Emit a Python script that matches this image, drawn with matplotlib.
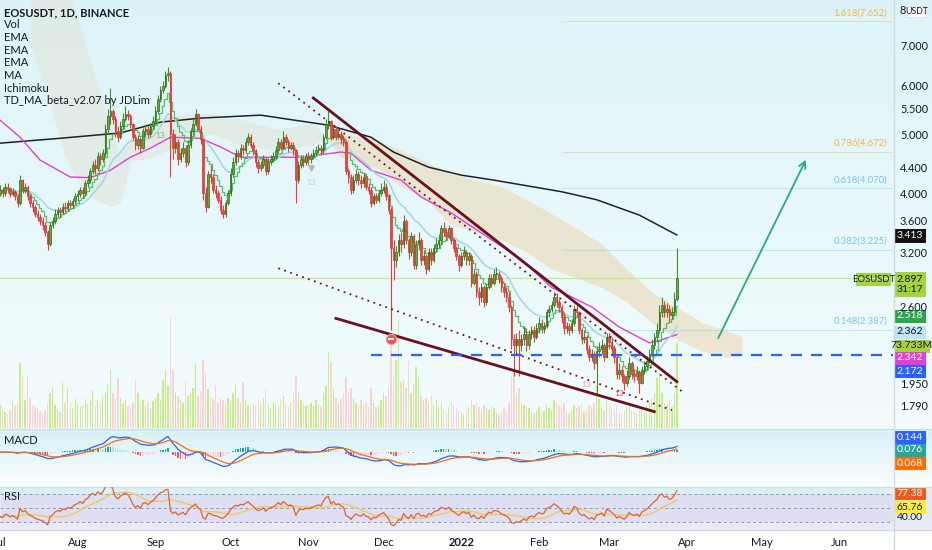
import numpy as np
import pandas as pd
import matplotlib
matplotlib.use("Agg")
import matplotlib.pyplot as plt
from matplotlib.colors import to_rgb
from matplotlib.patches import Rectangle
from matplotlib.lines import Line2D

plt.rcParams['font.family'] = ['Liberation Sans Narrow', 'Lato', 'DejaVu Sans']

W, H = 932, 550

# ---- EOSUSDT daily candles, 2021-07-01 .. 2022-03-28 ----
start_date = "2021-07-01"
first_open = 3.98

closes = [
    # Jul
    4.05, 4.00, 4.10, 4.08, 3.98, 4.02, 3.95, 3.85, 4.20, 4.05, 4.10, 3.95, 3.85, 3.80, 3.70, 3.65,
    3.60, 3.55, 3.45, 3.30, 3.55, 3.60, 3.70, 3.75, 3.72, 3.80, 3.78, 3.85, 3.82, 3.88, 3.95,
    # Aug
    3.98, 4.05, 4.00, 4.15, 4.20, 4.35, 4.45, 4.40, 4.60, 4.55, 4.65, 5.10, 5.35, 5.45, 5.30, 5.05,
    4.95, 5.15, 5.30, 5.40, 5.35, 5.20, 4.95, 4.80, 4.90, 4.75, 5.05, 5.10, 5.00, 5.15, 5.25,
    # Sep
    5.45, 5.70, 5.90, 6.00, 6.25, 6.30, 5.00, 4.75, 4.85, 4.55, 4.65, 4.75, 4.50, 4.80, 5.05,
    5.20, 5.40, 5.10, 4.90, 4.00, 3.80, 4.30, 4.25, 4.05, 4.00, 3.90, 3.75, 3.70, 3.85, 4.00,
    # Oct
    4.30, 4.50, 4.65, 4.60, 4.75, 4.70, 4.85, 4.95, 4.80, 4.70, 4.50, 4.40, 4.45, 4.55, 4.35, 4.50,
    4.55, 4.60, 4.70, 4.85, 4.75, 4.95, 4.85, 4.75, 4.80, 4.70, 4.20, 4.45, 4.55, 4.50, 4.60,
    # Nov
    4.55, 4.60, 4.65, 4.70, 4.75, 4.70, 4.95, 5.20, 5.25, 4.95, 5.10, 4.95, 5.00, 4.90, 4.85,
    4.35, 4.25, 4.05, 4.20, 4.30, 4.20, 4.15, 4.25, 4.10, 4.05, 3.85, 3.95, 3.90, 4.00, 4.05,
    # Dec
    4.10, 3.95, 3.75, 3.25, 3.10, 3.20, 3.35, 3.30, 3.60, 3.35, 3.20, 3.40, 3.05, 3.30, 3.35, 3.10,
    3.15, 3.00, 3.20, 3.10, 3.25, 3.30, 3.35, 3.50, 3.45, 3.40, 3.50, 3.35, 3.25, 3.15, 3.05,
    # Jan
    3.15, 3.20, 3.10, 3.15, 2.85, 2.95, 2.75, 2.70, 2.80, 2.65, 2.80, 2.90, 2.85, 2.95, 2.95, 2.90,
    2.80, 2.75, 2.70, 2.60, 2.30, 2.25, 2.30, 2.25, 2.30, 2.35, 2.25, 2.35, 2.38, 2.32, 2.40,
    # Feb
    2.45, 2.40, 2.42, 2.55, 2.58, 2.62, 2.70, 2.65, 2.60, 2.50, 2.40, 2.42, 2.38, 2.45,
    2.58, 2.55, 2.38, 2.30, 2.32, 2.22, 2.15, 2.18, 2.10, 2.20, 2.22, 2.25, 2.15, 2.32,
    # Mar
    2.28, 2.22, 2.15, 2.02, 2.05, 2.00, 1.95, 2.00, 2.10, 2.02, 2.00, 2.03, 1.95, 2.05,
    2.08, 2.12, 2.18, 2.25, 2.32, 2.38, 2.55, 2.62, 2.55, 2.58, 2.52, 2.55, 2.68, 2.897,
]

highs = [
    4.12, 4.10, 4.15, 4.15, 4.10, 4.08, 4.05, 3.98, 4.28, 4.22, 4.15, 4.12, 3.98, 3.90, 3.82, 3.75,
    3.70, 3.65, 3.58, 3.48, 3.58, 3.66, 3.76, 3.80, 3.80, 3.85, 3.86, 3.90, 3.90, 3.92, 4.00,
    4.05, 4.10, 4.10, 4.20, 4.28, 4.40, 4.52, 4.55, 4.68, 4.66, 4.72, 5.20, 5.50, 5.95, 5.50, 5.35,
    5.15, 5.25, 5.42, 5.55, 5.48, 5.40, 5.22, 5.00, 4.98, 4.95, 5.12, 5.20, 5.15, 5.22, 5.35,
    5.55, 5.80, 6.00, 6.10, 6.35, 6.45, 6.35, 5.10, 5.00, 4.90, 4.75, 4.85, 4.80, 4.88, 5.12,
    5.30, 5.50, 5.42, 5.15, 4.92, 4.10, 4.35, 4.45, 4.30, 4.12, 4.05, 3.95, 3.82, 3.90, 4.05,
    4.40, 4.58, 4.72, 4.70, 4.82, 4.80, 4.92, 5.02, 5.00, 4.85, 4.72, 4.55, 4.52, 4.62, 4.58, 4.56,
    4.62, 4.68, 4.78, 4.92, 4.90, 5.05, 5.00, 4.90, 4.85, 4.85, 4.72, 4.52, 4.62, 4.62, 4.66,
    4.68, 4.66, 4.72, 4.78, 4.82, 4.80, 5.00, 5.30, 5.45, 5.28, 5.18, 5.15, 5.08, 5.05, 4.98,
    4.88, 4.40, 4.30, 4.28, 4.38, 4.35, 4.28, 4.32, 4.30, 4.15, 4.10, 4.00, 4.00, 4.05, 4.15,
    4.20, 4.15, 3.98, 3.80, 3.35, 3.28, 3.42, 3.45, 3.68, 3.62, 3.38, 3.45, 3.42, 3.35, 3.45, 3.38,
    3.22, 3.18, 3.25, 3.25, 3.30, 3.38, 3.42, 3.55, 3.58, 3.50, 3.55, 3.52, 3.38, 3.28, 3.18,
    3.20, 3.28, 3.22, 3.20, 3.18, 3.00, 2.98, 2.80, 2.85, 2.82, 2.85, 2.95, 2.95, 3.00, 3.02, 2.98,
    2.92, 2.85, 2.80, 2.75, 2.62, 2.35, 2.36, 2.38, 2.35, 2.42, 2.40, 2.38, 2.42, 2.42, 2.45,
    2.50, 2.48, 2.46, 2.58, 2.62, 2.66, 2.75, 2.74, 2.68, 2.62, 2.55, 2.46, 2.45, 2.48,
    2.62, 2.62, 2.56, 2.40, 2.38, 2.34, 2.25, 2.22, 2.20, 2.24, 2.28, 2.30, 2.27, 2.36,
    2.36, 2.32, 2.25, 2.18, 2.10, 2.08, 2.02, 2.05, 2.15, 2.12, 2.06, 2.08, 2.05, 2.08,
    2.12, 2.16, 2.22, 2.30, 2.36, 2.45, 2.62, 2.70, 2.66, 2.64, 2.62, 2.60, 2.75, 3.25,
]

lows = [
    3.95, 3.94, 3.96, 4.00, 3.94, 3.95, 3.90, 3.80, 3.82, 4.00, 4.00, 3.90, 3.80, 3.72, 3.66, 3.60,
    3.55, 3.48, 3.40, 3.22, 3.28, 3.50, 3.56, 3.66, 3.66, 3.70, 3.72, 3.74, 3.78, 3.78, 3.84,
    3.88, 3.94, 3.92, 3.96, 4.10, 4.16, 4.30, 4.30, 4.35, 4.45, 4.50, 4.60, 5.00, 5.20, 5.20, 4.95,
    4.85, 4.90, 5.10, 5.25, 5.28, 5.12, 4.88, 4.70, 4.72, 4.65, 4.72, 4.95, 4.92, 4.95, 5.10,
    5.20, 5.40, 5.65, 5.85, 5.95, 6.10, 4.25, 4.55, 4.65, 4.45, 4.50, 4.58, 4.42, 4.45, 4.75,
    4.98, 5.15, 5.05, 4.82, 3.90, 3.72, 3.78, 4.15, 4.00, 3.92, 3.85, 3.70, 3.64, 3.66, 3.82,
    3.95, 4.25, 4.45, 4.50, 4.55, 4.62, 4.65, 4.80, 4.75, 4.62, 4.42, 4.32, 4.35, 4.40, 4.28, 4.30,
    4.45, 4.50, 4.55, 4.65, 4.70, 4.72, 4.80, 4.68, 4.70, 4.62, 3.85, 4.15, 4.40, 4.42, 4.45,
    4.45, 4.48, 4.55, 4.60, 4.65, 4.62, 4.66, 4.90, 5.10, 4.88, 4.90, 4.88, 4.90, 4.82, 4.78,
    4.30, 4.15, 3.98, 4.00, 4.15, 4.12, 4.08, 4.10, 4.05, 3.98, 3.80, 3.82, 3.85, 3.86, 3.95,
    4.00, 3.90, 3.70, 2.38, 2.88, 3.02, 3.15, 3.20, 3.25, 3.30, 3.12, 3.15, 3.00, 3.00, 3.22, 3.05,
    3.05, 2.95, 2.98, 3.05, 3.08, 3.20, 3.25, 3.30, 3.40, 3.35, 3.38, 3.30, 3.20, 3.10, 2.98,
    3.02, 3.10, 3.05, 3.05, 2.80, 2.82, 2.70, 2.62, 2.65, 2.60, 2.62, 2.78, 2.80, 2.82, 2.90, 2.85,
    2.75, 2.70, 2.65, 2.55, 2.22, 2.00, 2.18, 2.00, 2.20, 2.25, 2.20, 2.22, 2.30, 2.28, 2.30,
    2.36, 2.36, 2.36, 2.40, 2.50, 2.55, 2.60, 2.60, 2.55, 2.45, 2.35, 2.36, 2.34, 2.36,
    2.42, 2.50, 2.35, 2.26, 2.27, 2.18, 2.12, 2.12, 2.06, 1.88, 2.15, 2.18, 2.12, 2.14,
    2.22, 2.18, 2.10, 1.98, 1.98, 1.96, 1.90, 1.93, 1.98, 1.98, 1.96, 1.97, 1.88, 1.94,
    2.02, 2.05, 2.10, 2.15, 2.22, 2.28, 2.36, 2.50, 2.50, 2.50, 2.46, 2.48, 2.52, 2.66,
]

volume_m = [
    20, 18, 14, 12, 16, 22, 19, 21, 56, 46, 24, 45, 26, 20, 18, 17, 15, 13, 16, 22, 30, 35, 20, 16,
    14, 39, 22, 35, 22, 17, 25,
    22, 18, 20, 25, 21, 24, 33, 19, 24, 22, 27, 30, 38, 50, 30, 25, 43, 26, 21, 24, 19, 18, 22, 42,
    30, 20, 24, 19, 22, 17, 23,
    26, 30, 24, 42, 50, 36, 95, 50, 30, 28, 25, 22, 40, 28, 30, 35, 56, 28, 32, 59, 48, 34, 28, 25,
    37, 22, 26, 24, 21, 26,
    24, 30, 37, 26, 22, 40, 25, 20, 18, 22, 19, 24, 21, 26, 33, 20, 17, 23, 21, 19, 25, 28, 20, 18,
    22, 30, 46, 32, 24, 21, 19,
    20, 22, 19, 24, 21, 18, 30, 36, 66, 57, 34, 26, 22, 25, 30, 44, 30, 35, 26, 22, 19, 24, 20, 22,
    18, 35, 22, 18, 20, 24,
    30, 28, 35, 74, 45, 59, 94, 40, 42, 35, 59, 30, 38, 53, 43, 28, 24, 26, 22, 29, 20, 24, 18, 22,
    16, 14, 18, 22, 20, 17, 15,
    14, 12, 16, 18, 24, 20, 22, 18, 15, 20, 18, 16, 19, 17, 13, 12, 15, 18, 16, 22, 44, 48, 30, 35,
    22, 20, 18, 17, 14, 13, 16,
    18, 16, 15, 20, 17, 16, 24, 22, 20, 19, 22, 15, 13, 16, 20, 17, 19, 21, 14, 16, 20, 18, 22, 36,
    25, 18, 15, 24,
    22, 18, 16, 20, 14, 12, 15, 18, 20, 16, 14, 12, 16, 18, 15, 20, 22, 26, 30, 43, 48, 30, 22, 20,
    24, 18, 30, 73.733,
]

# MA(200) and the magenta average, read at a few dates
ma200_dates = ["2021-07-01", "2021-07-25", "2021-08-18", "2021-09-03", "2021-09-19", "2021-10-13",
               "2021-11-09", "2021-11-26", "2021-12-05", "2021-12-19", "2022-01-01", "2022-01-14",
               "2022-02-10", "2022-02-24", "2022-03-13", "2022-03-28"]
ma200_vals = [4.83, 4.92, 5.02, 5.23, 5.31, 5.37, 5.17, 4.94, 4.67, 4.41, 4.28, 4.20, 4.02, 3.90, 3.68, 3.413]

ema50_dates = ["2021-07-01", "2021-07-09", "2021-07-17", "2021-07-29", "2021-08-06", "2021-08-14",
               "2021-08-22", "2021-08-30", "2021-09-07", "2021-09-19", "2021-09-27", "2021-10-05",
               "2021-10-29", "2021-11-14", "2021-11-18", "2021-11-26", "2021-12-08", "2021-12-16",
               "2021-12-28", "2022-01-09", "2022-01-25", "2022-02-06", "2022-02-14", "2022-02-22",
               "2022-03-05", "2022-03-17", "2022-03-21", "2022-03-28"]
ema50_vals = [5.27, 4.94, 4.53, 4.25, 4.24, 4.36, 4.58, 4.74, 4.94, 4.92, 4.76, 4.58, 4.58, 4.67, 4.65,
              4.36, 4.20, 3.94, 3.71, 3.44, 3.11, 2.80, 2.70, 2.60, 2.41, 2.27, 2.29, 2.342]

# Ichimoku cloud spans
cloud_dates = ["2021-07-13", "2021-07-21", "2021-07-27", "2021-08-02", "2021-08-08", "2021-08-14",
               "2021-08-18", "2021-08-22", "2021-09-01", "2021-09-14", "2021-09-24", "2021-10-04",
               "2021-10-19", "2021-11-03", "2021-11-08", "2021-11-13", "2021-11-28", "2021-12-08",
               "2021-12-18", "2021-12-28", "2022-01-07", "2022-01-17", "2022-01-27", "2022-02-06",
               "2022-02-16", "2022-02-26", "2022-03-08", "2022-03-18", "2022-03-28", "2022-04-07",
               "2022-04-17", "2022-04-23"]
span_a = [9.0, 9.0, 9.0, 7.5, 6.2, 5.2, 4.6, 4.9, 5.3, 5.4, 5.4, 5.3, 5.1, 5.2, 4.95, 4.6, 4.4, 4.1,
          3.9, 3.55, 3.45, 3.35, 3.2, 3.0, 2.9, 2.8, 2.65, 2.45, 2.3, 2.2, 2.15, 2.18]
span_b = [7.0, 5.6, 4.6, 4.1, 3.9, 3.8, 3.85, 4.5, 4.6, 4.9, 5.0, 4.8, 4.7, 4.8, 4.95, 5.0, 4.9, 4.7,
          4.5, 4.3, 4.2, 4.1, 3.9, 3.7, 3.5, 3.3, 3.0, 2.75, 2.6, 2.45, 2.38, 2.32]

# drawings: trend lines (date, price), dashed level, fib levels, arrow
upper_trend = (["2021-11-03", "2022-03-28"], [5.73, 1.96])
upper_dotted = (["2021-10-20", "2022-03-30"], [6.06, 1.89])
lower_dotted = (["2021-10-20", "2022-03-26"], [3.01, 1.76])
lower_trend = (["2021-11-12", "2022-03-19"], [2.49, 1.75])
support_level = 2.172
support_from = "2021-11-26"
fib_from = "2022-02-10"
fib_levels = [7.652, 4.672, 4.070, 3.225, 2.387]
fib_names = ["1.618(7.652)", "0.786(4.672)", "0.618(4.070)", "0.382(3.225)", "0.148(2.387)"]
fib_colors = ["#f3b54a", "#f3b54a", "#79c6ee", "#79c6ee", "#79c6ee"]
arrow_from = ("2022-04-13", 2.29)
arrow_to = ("2022-05-19", 4.58)

price_ticks = [8, 7.0, 6.0, 5.5, 5.0, 4.4, 4.0, 3.6, 3.2, 2.6, 1.95, 1.79]
month_ticks = ["2021-07-01", "2021-08-01", "2021-09-01", "2021-10-01", "2021-11-01", "2021-12-01",
               "2022-01-01", "2022-02-01", "2022-03-01", "2022-04-01", "2022-05-01", "2022-06-01"]
month_labels = ["Jul", "Aug", "Sep", "Oct", "Nov", "Dec", "2022", "Feb", "Mar", "Apr", "May", "Jun"]

legend_lines = ["Vol", "EMA", "EMA", "EMA", "MA", "Ichimoku", "TD_MA_beta_v2.07 by JDLim"]

# ---- derived series ----
dates = pd.date_range(start_date, periods=len(closes), freq="D")
c = np.array(closes)
hi = np.array(highs)
lo = np.array(lows)
o = np.concatenate([[first_open], c[:-1]])
vol = np.array(volume_m)
up = c >= o

s = pd.Series(c, index=dates)
ema_fast = s.ewm(span=8, adjust=False).mean()
ema_mid = s.ewm(span=21, adjust=False).mean()
macd = s.ewm(span=12, adjust=False).mean() - s.ewm(span=26, adjust=False).mean()
signal = macd.ewm(span=9, adjust=False).mean()
hist = macd - signal

# Wilder RSI(14), seeded with the average of the first 14 moves
delta = s.diff().fillna(0)
g = delta.clip(lower=0)
d = (-delta).clip(lower=0)
g.iloc[0] = g.iloc[1:15].mean()
d.iloc[0] = d.iloc[1:15].mean()
gain = g.ewm(alpha=1 / 14, adjust=False).mean()
loss = d.ewm(alpha=1 / 14, adjust=False).mean()
rsi = 100 - 100 / (1 + gain / loss)
rsi_ma = rsi.rolling(14, min_periods=1).mean()

# ---- figure ----
fig = plt.figure(figsize=(W / 100, H / 100), dpi=100)

bg = fig.add_axes([0, 0, 1, 1], zorder=0)
grad = np.ones((H, 1, 3))


def band(y0, y1, c0, c1):
    t = np.linspace(0, 1, y1 - y0)[:, None]
    grad[y0:y1, 0, :] = np.array(to_rgb(c0)) * (1 - t) + np.array(to_rgb(c1)) * t


band(0, 429, "#dcf4f8", "#f4fcfd")
band(429, 487, "#d6f1f7", "#fbfefe")
band(487, 530, "#dbf1f8", "#eceaf7")
bg.imshow(grad, aspect="auto", extent=(0, 1, 0, 1), origin="upper")
bg.axis("off")

xr = 893 / W
main_rect = [0, 1 - 428 / H, xr, 428 / H]
ax_vol = fig.add_axes(main_rect, zorder=1)
ax = fig.add_axes(main_rect, zorder=2, sharex=ax_vol)
ax_macd = fig.add_axes([0, 1 - 486 / H, xr, 57 / H], zorder=2, sharex=ax_vol)
ax_rsi = fig.add_axes([0, 1 - 529 / H, xr, 42 / H], zorder=2, sharex=ax_vol)

for a in (ax_vol, ax, ax_macd, ax_rsi):
    a.patch.set_alpha(0)
    for sp in a.spines.values():
        sp.set_visible(False)
    a.tick_params(axis="x", length=0, labelbottom=False)

x0 = pd.Timestamp(start_date) + pd.Timedelta(hours=10)
x1 = pd.Timestamp("2022-06-22 05:00")
ax.set_xlim(x0, x1)

# volume
ax_vol.bar(dates, vol, width=0.55, color=np.where(up, "#c6ee85", "#fad2d8"), linewidth=0)
ax_vol.set_ylim(0, 371)
ax_vol.set_yticks([])

# cloud
cd = pd.to_datetime(cloud_dates)
sa = np.array(span_a)
sb = np.array(span_b)
ax.fill_between(cd, sa, sb, where=sa >= sb, interpolate=True, color="#e2e6da", alpha=0.6, lw=0, zorder=1)
ax.fill_between(cd, sa, sb, where=sa <= sb, interpolate=True, color="#ead9b6", alpha=0.6, lw=0, zorder=1)

ax.set_yscale("log")
ax.set_ylim(1.645, 8.30)

# moving averages
ax.plot(pd.to_datetime(ma200_dates), ma200_vals, color="#222222", lw=1.1, zorder=3)
ax.plot(pd.to_datetime(ema50_dates), ema50_vals, color="#dd3fd6", lw=1.0, zorder=3)
ax.plot(dates, ema_mid, color="#9fd6ea", lw=1.1, zorder=3)
ax.plot(dates, ema_fast, color="#52c06a", lw=0.9, drawstyle="steps-mid", zorder=3)

# candles
ax.vlines(dates, lo, hi, colors=np.where(up, "#3f8f2a", "#ec3d3d"), lw=0.8, zorder=4)
body_h = np.maximum(np.abs(c - o), 0.004)
ax.bar(dates, body_h, bottom=np.minimum(o, c), width=0.62,
       color=np.where(up, "#5fae38", "#f0403f"), edgecolor=np.where(up, "#2c6a1a", "#e23232"),
       linewidth=0.5, zorder=5)

# trend lines
for (dd, p), ls, lw in [(upper_trend, "-", 2.0), (lower_trend, "-", 2.0),
                        (upper_dotted, (0, (1, 2.5)), 1.3), (lower_dotted, (0, (1, 2.5)), 1.3)]:
    ax.plot(pd.to_datetime(dd), p, color="#6b1020", lw=lw, ls=ls, zorder=6)

# support level and price line
ax.plot([pd.Timestamp(support_from), x1], [support_level] * 2, color="#2962ff", lw=1.6,
        ls=(0, (5, 4)), zorder=6)
ax.axhline(c[-1], color="#c9e98f", lw=0.9, zorder=2)

# fib levels
for lev, name, col in zip(fib_levels, fib_names, fib_colors):
    ax.plot([pd.Timestamp(fib_from), x1], [lev, lev], color=col, lw=0.6, alpha=0.45, zorder=2)
    ax.annotate(name, xy=(x1, lev), xytext=(-6, 4), textcoords="offset pixels", ha="right",
                va="bottom", fontsize=6.8, color=col, zorder=6)

# projection arrow
ax.annotate("", xy=(pd.Timestamp(arrow_to[0]), arrow_to[1]),
            xytext=(pd.Timestamp(arrow_from[0]), arrow_from[1]),
            arrowprops=dict(arrowstyle="->", color="#27ad7b", lw=1.3, mutation_scale=12), zorder=7)

# small TD markers
ax.scatter([pd.Timestamp("2021-12-04")], [2.30], s=55, color="#ef5350", edgecolor="#f7a19f", lw=0.8, zorder=8)
ax.scatter([pd.Timestamp("2021-12-04")], [2.30], s=18, marker="_", color="white", lw=1.5, zorder=9)
ax.text(pd.Timestamp("2022-03-05"), 1.86, "13", color="#f05050", fontsize=6, ha="center", zorder=8)
ax.text(pd.Timestamp("2022-02-20"), 1.92, "13", color="#f7a0a0", fontsize=6, ha="center", zorder=8)
ax.text(pd.Timestamp("2021-09-03"), 4.92, "13", color="#78b878", fontsize=6, ha="center", zorder=8)
ax.scatter([pd.Timestamp("2021-11-02")], [4.40], s=14, marker="v", color="#b0b8bc", zorder=8)
ax.text(pd.Timestamp("2021-11-02"), 4.12, "13", color="#c8cdd0", fontsize=6, ha="center", zorder=8)

# right price scale
ax.yaxis.tick_right()
ax.set_yticks(price_ticks)
ax.set_yticklabels(["8"] + ["%.3f" % t for t in price_ticks[1:]])
ax.yaxis.set_minor_locator(matplotlib.ticker.NullLocator())
ax.tick_params(axis="y", length=0, pad=5, labelsize=7.8, labelcolor="#131722")

# MACD
hp = hist.shift(1).fillna(0)
hcol = np.where(hist >= 0, np.where(hist >= hp, "#26a69a", "#b2dfdb"),
                np.where(hist < hp, "#ff5252", "#ffcdd2"))
ax_macd.bar(dates, hist, width=0.6, color=hcol, linewidth=0)
ax_macd.plot(dates, macd, color="#2962ff", lw=0.9)
ax_macd.plot(dates, signal, color="#ff6d00", lw=0.9)
ax_macd.set_ylim(-0.8, 0.55)
ax_macd.set_yticks([])

# RSI
ax_rsi.fill_between([x0, x1], 30, 70, color="#d9d4f1", alpha=0.55, lw=0)
for lev in (70, 50, 30):
    ax_rsi.axhline(lev, color="#9598a1", lw=0.7, ls=(0, (3, 3)))
ax_rsi.plot(dates, rsi_ma, color="#f2c94c", lw=0.9)
ax_rsi.plot(dates, rsi, color="#e0642a", lw=0.9)
ax_rsi.set_ylim(20, 80)
ax_rsi.set_yticks([])

ax_rsi.set_xticks(pd.to_datetime(month_ticks))
ax_rsi.set_xticklabels(month_labels)
ax_rsi.tick_params(axis="x", labelbottom=True, labelsize=8, labelcolor="#131722", pad=6)
for t in ax_rsi.get_xticklabels():
    if t.get_text() == "2022":
        t.set_fontweight("bold")

# separators
for y in (428.5, 486.5, 529.5):
    fig.add_artist(Line2D([0, 1], [1 - y / H] * 2, color="#cfdde2", lw=1))
fig.add_artist(Line2D([893.5 / W] * 2, [0, 1], color="#d3dadd", lw=1))

# legend texts
fig.text(4 / W, 1 - 12.7 / H, "EOSUSDT, 1D, BINANCE", fontsize=8, fontweight="bold",
         color="#131722", va="center")
for k, name in enumerate(legend_lines):
    fig.text(4 / W, 1 - (24.8 + 12.7 * k) / H, name, fontsize=8, color="#131722", va="center")
fig.text(4 / W, 1 - 440 / H, "MACD", fontsize=8, color="#131722", va="center")
fig.text(4 / W, 1 - 496 / H, "RSI", fontsize=8, color="#131722", va="center")


# value tags on the price scale
def tag(y, text, fc, tc, x=894, w=32, h=13, size=7.5):
    fig.add_artist(Rectangle((x / W, 1 - (y + h / 2) / H), w / W, h / H, transform=fig.transFigure,
                             fc=fc, ec="none"))
    fig.text((x + w / 2) / W, 1 - y / H, text, fontsize=size, color=tc, ha="center", va="center")


fig.add_artist(Rectangle((907 / W, 1 - 17 / H), 19 / W, 11 / H, transform=fig.transFigure,
                         fc="white", ec="#e0e3eb", lw=0.6))
fig.text(916.5 / W, 1 - 11.5 / H, "USDT", fontsize=6.3, color="#131722", ha="center", va="center")

tag(236, "3.413", "#131313", "white")
fig.add_artist(Rectangle((894 / W, 1 - 297 / H), 32 / W, 25 / H, transform=fig.transFigure,
                         fc="#a4d43c", ec="none"))
fig.text(910 / W, 1 - 279 / H, "2.897", fontsize=7.5, color="#131722", ha="center", va="center")
fig.text(910 / W, 1 - 290 / H, "31:17", fontsize=7.5, color="#131722", ha="center", va="center")
tag(279, "EOSUSDT", "#a4d43c", "#131722", x=856, w=35, size=6.8)
tag(316, "2.518", "#2aa748", "white")
tag(332, "2.362", "#bfe5f5", "#131722")
tag(346, "73.733M", "#a4d43c", "#131722", w=36)
tag(358, "2.342", "#e040d6", "white")
tag(371, "2.172", "#2962ff", "white")
tag(437, "0.144", "#2962ff", "white")
tag(450, "0.076", "#26a69a", "white")
tag(463, "0.068", "#ff6d00", "white")
fig.text(910 / W, 1 - 517 / H, "40.00", fontsize=7.5, color="#131722", ha="center", va="center")
tag(493, "77.38", "#ee5a1c", "white")
tag(507, "65.76", "#ffeb3b", "#131722")

fig.savefig("out.png", dpi=100)
